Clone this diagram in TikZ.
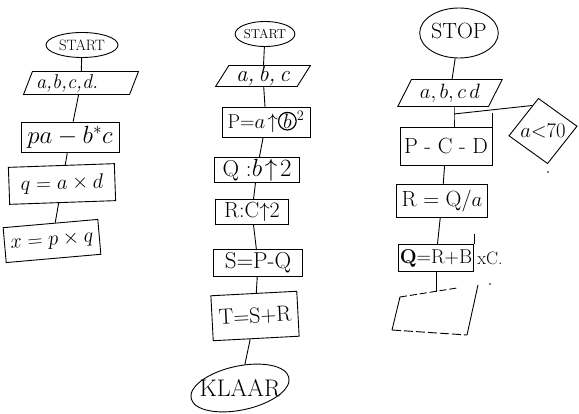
\documentclass[tikz,border=0pt]{standalone}
\usepackage{fontspec}
\usetikzlibrary{shapes.geometric,calc}
\begin{document}
\begin{tikzpicture}[x=1pt,y=-1pt,line width=0.9pt,
  fs/.style={font=\fontsize{#1}{#1}\selectfont},
  box/.style={draw,rectangle,inner sep=0pt},
  io/.style={draw,trapezium,trapezium left angle=65,trapezium right angle=115,
             trapezium stretches=true,inner sep=0pt},
  term/.style={draw,ellipse,inner sep=0pt}]

% page
\fill[white] (0,0) rectangle (579,414);
\useasboundingbox (0,0) rectangle (579,414);

% ---------- first flowchart ----------
\node[term,fs=15,minimum width=72,minimum height=25] (sL) at (82,45) {START};
\node[io,fs=20,minimum width=115,minimum height=23] (inL) at (81,83)
  {\itshape a,b,c,d.\hspace*{28pt}};
\node[box,fs=23,minimum width=98,minimum height=30] (r1L) at (70,137) {$pa - b^{*}c$};
\node[box,fs=20,minimum width=106,minimum height=37,rotate=2] (r2L) at (62,184) {$q = a \times d$};
\node[box,fs=20,minimum width=95,minimum height=35,rotate=5] (r3L) at (52,241) {$x = p \times q$};

\draw (sL) -- (inL);
\draw (inL) -- (r1L);
\draw (r1L) -- (r2L);
\draw (r2L) -- (r3L);

% ---------- second flowchart ----------
\node[term,fs=13,minimum width=56,minimum height=25] (sM) at (265,34) {START};
\node[io,fs=23,trapezium left angle=63,trapezium right angle=117,
      minimum width=95,minimum height=21] (inM) at (263,76) {\itshape a,\,b,\,c};
\node[box,fs=20,minimum width=88,minimum height=30] (rP) at (266,122)
  {P=$a\!\uparrow$\tikz[baseline=(cb.base)]\node[draw,circle,line width=1.2pt,
   inner sep=0.3pt,minimum size=0pt,rotate=0] (cb) {$b$};$^{2}$};
\node[box,fs=23,minimum width=85,minimum height=25] (rQ) at (257,170) {Q :$b\!\uparrow\!2$};
\node[box,fs=22,minimum width=73,minimum height=25] (rR) at (252,212) {R:C$\uparrow$2};
\node[box,fs=23,minimum width=89,minimum height=27] (rS) at (258,263) {S=P-Q};
\node[box,fs=22,minimum width=86,minimum height=45,rotate=3] (rT) at (255,316) {T=S+R};
\node[term,minimum width=100,minimum height=44,rotate=12] (kl) at (240,388) {};
\node[fs=24,inner sep=0pt] (klt) at (kl.center) {KLAAR};

\draw (sM) -- (inM);
\draw (inM) -- (rP);
\draw (rP) -- (rQ);
\draw (rQ) -- (rR);
\draw (rR) -- (rS);
\draw (rS) -- (rT);
\draw (rT) -- (kl);

% ---------- third flowchart ----------
\node[term,fs=22,minimum width=78,minimum height=50] (sR) at (459,33) {\raisebox{4pt}{STOP}};
\node[io,fs=22,trapezium left angle=60,trapezium right angle=120,
      minimum width=105,minimum height=27] (inR) at (450,93) {$a,b,c\,d$};
\node[box,fs=22,minimum width=92,minimum height=38] (rPCD) at (446,146) {P - C - D};
\node[box,fs=22,minimum width=91,minimum height=33] (rRQ) at (442,201) {R = Q/$a$};
\node[box,fs=20,minimum width=75,minimum height=27] (rQB) at (436,258) {\textbf{Q}=R+B};
\node[fs=18,anchor=west,inner sep=3pt] (xc) at (rQB.east) {xC.};
\node[draw,diamond,minimum width=69,minimum height=66,inner sep=0pt,rotate=8]
  (dm) at (543,131) {};
\node[fs=20,inner sep=0pt] (dmt) at (dm.center) {$a{<}70$};

\coordinate (jn) at (454,114);
\coordinate (ob) at (436,292);

\draw (sR) -- (inR);
\draw (inR.south -| jn) -- (jn) -- (jn |- rPCD.north);
\draw (jn) -- ($(dm.west)!0.8!(dm.north)$);
\draw (rPCD.north east) -- ++(0,-14);
\draw (rPCD) -- (rRQ);
\draw (rRQ) -- (rQB);
\draw (rQB.north east) -- ++(0,-10);
\draw (rQB) -- (ob);

% unfinished box at the end
\draw[dash pattern=on 7pt off 3pt] (400,297) -- (457,288);
\draw (478,285) -- (467,335);
\draw (400,297) -- (392,330);
\draw[dash pattern=on 9pt off 3pt] (392,330) -- (467,335);

% stray pen marks
\fill (548,172) circle (0.9);
\fill (490,284) circle (0.9);
\end{tikzpicture}
\end{document}
